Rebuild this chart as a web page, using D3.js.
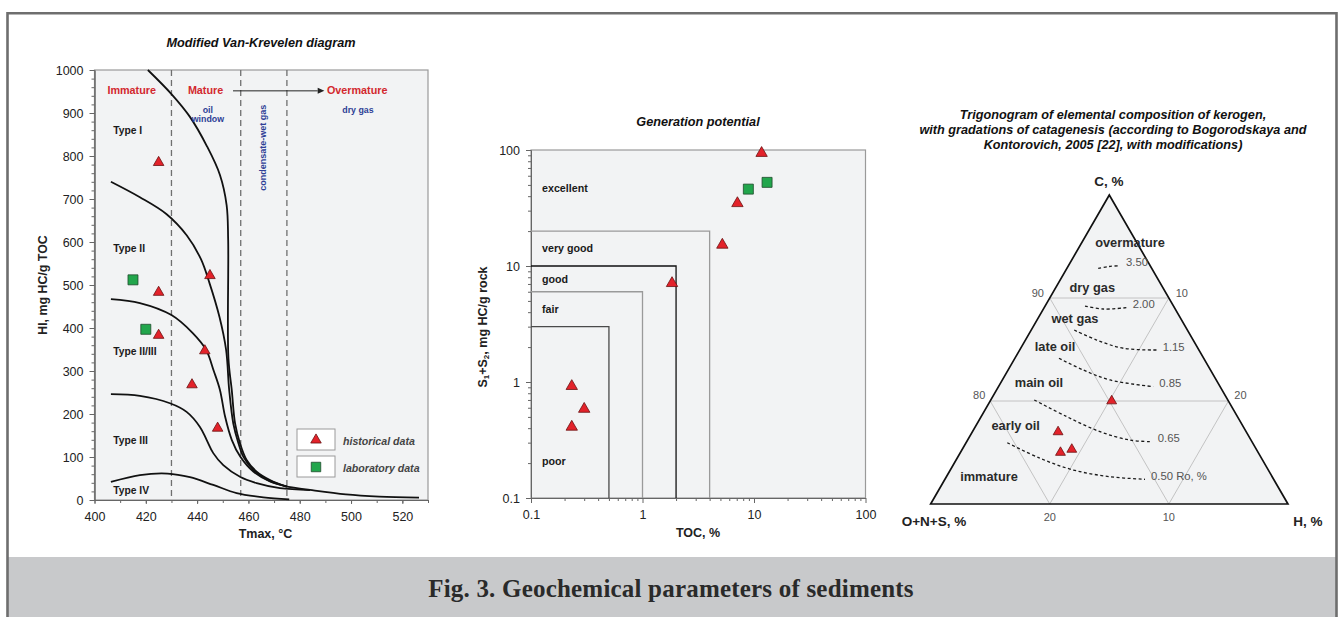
<!DOCTYPE html>
<html><head><meta charset="utf-8">
<script src="https://cdn.jsdelivr.net/npm/d3@7"></script>
<style>body{margin:0;background:#fff} svg{display:block}</style>
</head><body><svg id="c" width="1342" height="617"></svg>
<script>
// ---------------- DATA ----------------
// Panel 1: Modified Van-Krevelen diagram
const tmaxTicks = [400, 420, 440, 460, 480, 500, 520];
const hiTicks = [0, 100, 200, 300, 400, 500, 600, 700, 800, 900, 1000];
const maturityBounds = [430, 457, 475];
const curveTypeI = [[420.8,1000],[430,944],[437.2,891],[443.9,822],[448.9,756],[451.5,686],[452.1,605],[452.2,330],[453.5,256],[454.8,178],[456.7,132],[459.3,93],[463.2,66],[468.4,46.5],[475,31]];
const curveTypeII = [[406.4,740],[417.7,704],[428,665],[436,615],[441.5,560],[444.8,505],[448.7,426],[451.3,349],[452.5,256],[454.1,178],[456.1,132],[458,101],[461.9,70],[467.1,48],[475,31]];
const curveTypeII_III = [[406.4,467],[417.7,458],[430,430],[438.3,388],[443.5,349],[446.5,300],[448.9,256],[450.9,194],[453.5,140],[456.8,101],[461.9,66],[468.4,43],[475,31]];
const curveTypeIII = [[406.4,246],[417.7,242],[429.4,225],[435.9,205],[441.1,170],[443.7,140],[446.3,109],[450.2,81],[456.7,54],[463.2,39],[472.3,27.5],[484,23.3]];
const curveTypeIV = [[406.4,42],[417.7,58],[428.5,61.5],[437.2,53],[446.3,35],[455.4,16],[465.8,6.3],[475.9,1.6]];
const curveTail = [[475,31],[484,23.3],[498,13],[511,8],[526.5,5.5]];
const histTmax = [425, 445, 425, 425, 443, 438, 448];
const histHI   = [785, 522, 483, 383, 347, 268, 167];
const labTmax = [415, 420];
const labHI   = [512, 397];

// Panel 2: Generation potential
const logTicks = [0.1, 1, 10, 100];
const potentialClasses = ["poor", "fair", "good", "very good", "excellent"];
const classTOC = [0.5, 1, 2, 4];
const classS1S2 = [3, 6, 10, 20];
const histTOC  = [11.7, 7.1, 5.2, 1.84, 0.232, 0.30, 0.232];
const histS1S2 = [94, 34.7, 15.2, 7.1, 0.92, 0.585, 0.41];
const labTOC  = [8.9, 13.1];
const labS1S2 = [46, 52.6];

// Panel 3: Trigonogram (C, H; O+N+S = 100 - C - H)
const ternC = [80.0, 77.0, 75.0, 75.3];
const ternH = [10.2, 7.2, 8.4, 9.2];
const roLabels = ["3.50", "2.00", "1.15", "0.85", "0.65", "0.50 Ro, %"];
const roCurveC = [
  [92.88, 93.06, 93.14],
  [89.22, 88.93, 89.06],
  [86.89, 85.92, 85.12, 84.95],
  [84.15, 83.01, 82.04, 81.39],
  [80.10, 78.48, 77.02, 76.21, 76.05],
  [75.95, 74.44, 73.30, 72.65, 72.40]
];
const roCurveH = [
  [2.63, 3.45, 4.33],
  [3.35, 5.03, 6.93],
  [3.61, 5.98, 8.62, 11.50],
  [3.70, 6.31, 9.04, 13.00],
  [3.65, 7.19, 10.71, 13.63, 15.54],
  [3.46, 6.96, 10.33, 13.73, 16.80]
];
const stageLabels = ["overmature", "dry gas", "wet gas", "late oil", "main oil", "early oil", "immature"];

// ---------------- DRAW ----------------
const SANS = '"Liberation Sans", Arial, sans-serif';
const svg = d3.select("#c");
svg.append("rect").attr("width", 1342).attr("height", 617).attr("fill", "#fff");
svg.append("rect").attr("x", 8).attr("y", 557).attr("width", 1328).attr("height", 62).attr("fill", "#c8c9cb");
svg.append("path").attr("d", "M7.5,620 V13.3 H1336.5 V620").attr("fill", "none").attr("stroke", "#6e6e6e").attr("stroke-width", 2.6);
svg.append("text").attr("x", 671).attr("y", 588).attr("text-anchor", "middle").attr("dominant-baseline", "central")
  .attr("font-family", '"Liberation Serif", "Times New Roman", serif').attr("font-weight", "bold").attr("font-size", 25)
  .attr("letter-spacing", 0.2).attr("fill", "#2a2a2a").text("Fig. 3. Geochemical parameters of sediments");

function txt(g, x, y, s, o = {}) {
  const t = g.append("text").attr("x", x).attr("y", y).attr("font-family", SANS)
    .attr("font-size", o.size || 11).attr("font-weight", o.weight || "bold")
    .attr("font-style", o.style || "normal").attr("fill", o.fill || "#222")
    .attr("text-anchor", o.anchor || "middle").attr("dominant-baseline", "central").text(s);
  if (o.rotate) t.attr("transform", `rotate(${o.rotate},${x},${y})`);
  return t;
}
function styleAxis(g) {
  g.attr("font-family", SANS).attr("font-size", 12.5);
  g.select(".domain").attr("stroke", "#666");
  g.selectAll(".tick line").attr("stroke", "#666");
  g.selectAll(".tick text").attr("fill", "#222");
}
const triSym = (s) => d3.symbol().type(d3.symbolTriangle).size(s)();
const sqSym = (s) => d3.symbol().type(d3.symbolSquare).size(s)();
const RED = "#e3222a", REDS = "#6a1111", GRN = "#22a64c", GRNS = "#1f4a2c";
const TITLE = 12.7;

// ===== Panel 1 =====
const x1 = d3.scaleLinear().domain([400, 530]).range([94.5, 428]);
const y1 = d3.scaleLinear().domain([0, 1000]).range([500, 70]);
const g1 = svg.append("g");
g1.append("rect").attr("x", x1(400)).attr("y", y1(1000)).attr("width", x1(530) - x1(400)).attr("height", y1(0) - y1(1000))
  .attr("fill", "#f2f3f4").attr("stroke", "#9a9a9a").attr("stroke-width", 1.2);
g1.append("g").attr("transform", `translate(0,${y1(0)})`)
  .call(d3.axisBottom(x1).tickValues(d3.range(400, 531, 10)).tickSize(3).tickSizeOuter(0).tickFormat(""))
  .call(styleAxis);
g1.append("g").attr("transform", `translate(0,${y1(0)})`)
  .call(d3.axisBottom(x1).tickValues(tmaxTicks).tickSize(4).tickPadding(8).tickSizeOuter(0).tickFormat(d3.format("d")))
  .call(styleAxis);
g1.append("g").attr("transform", `translate(${x1(400)},0)`)
  .call(d3.axisLeft(y1).tickValues(d3.range(0, 1001, 20)).tickSize(3).tickSizeOuter(0).tickFormat(""))
  .call(styleAxis);
g1.append("g").attr("transform", `translate(${x1(400)},0)`)
  .call(d3.axisLeft(y1).tickValues(hiTicks).tickSize(5).tickPadding(6).tickSizeOuter(0).tickFormat(d3.format("d")))
  .call(styleAxis);
maturityBounds.forEach(t => {
  g1.append("line").attr("x1", x1(t)).attr("x2", x1(t)).attr("y1", y1(1000)).attr("y2", y1(0))
    .attr("stroke", "#6f6f6f").attr("stroke-width", 1.3).attr("stroke-dasharray", "6,4");
});
const line1 = d3.line().x(d => x1(d[0])).y(d => y1(d[1])).curve(d3.curveCatmullRom.alpha(0.5));
[curveTypeI, curveTypeII, curveTypeII_III, curveTypeIII, curveTypeIV, curveTail].forEach(c => {
  g1.append("path").attr("d", line1(c)).attr("fill", "none").attr("stroke", "#111").attr("stroke-width", 1.8);
});
// maturity header
txt(g1, x1(414.5), y1(953), "Immature", { fill: "#d2282e", size: 10.8 });
txt(g1, x1(443.3), y1(953), "Mature", { fill: "#d2282e", size: 10.8 });
txt(g1, x1(502.4), y1(953), "Overmature", { fill: "#d2282e", size: 10.8 });
g1.append("line").attr("x1", x1(454)).attr("x2", x1(487)).attr("y1", y1(951.5)).attr("y2", y1(951.5)).attr("stroke", "#222").attr("stroke-width", 1);
g1.append("path").attr("d", `M${x1(487)},${y1(951.5) - 3}L${x1(489.6)},${y1(951.5)}L${x1(487)},${y1(951.5) + 3}Z`).attr("fill", "#222");
txt(g1, x1(444.2), y1(907), "oil", { fill: "#2e3f96", size: 8.8 });
txt(g1, x1(444.2), y1(886), "window", { fill: "#2e3f96", size: 8.8 });
txt(g1, x1(465.8), y1(819), "condensate-wet gas", { fill: "#2e3f96", size: 9, rotate: -90 });
txt(g1, x1(502.7), y1(907), "dry gas", { fill: "#2e3f96", size: 8.8 });
// type labels
[["Type I", 859], ["Type II", 584], ["Type II/III", 345], ["Type III", 138], ["Type IV", 21]].forEach(d => {
  txt(g1, x1(407.3), y1(d[1]), d[0], { anchor: "start", size: 10.3, fill: "#1a1a1a" });
});
// points
histTmax.forEach((t, i) => {
  g1.append("path").attr("d", triSym(48)).attr("transform", `translate(${x1(t)},${y1(histHI[i])})`)
    .attr("fill", RED).attr("stroke", REDS).attr("stroke-width", 0.8);
});
labTmax.forEach((t, i) => {
  g1.append("path").attr("d", sqSym(100)).attr("transform", `translate(${x1(t)},${y1(labHI[i])})`)
    .attr("fill", GRN).attr("stroke", GRNS).attr("stroke-width", 0.8);
});
// legend
[["historical data", 429, "tri"], ["laboratory data", 456, "sq"]].forEach(d => {
  g1.append("rect").attr("x", 297).attr("y", d[1]).attr("width", 38).attr("height", 21).attr("fill", "#fff").attr("stroke", "#9a9a9a");
  g1.append("path").attr("d", d[2] === "tri" ? triSym(48) : sqSym(90)).attr("transform", `translate(316,${d[1] + 11})`)
    .attr("fill", d[2] === "tri" ? RED : GRN).attr("stroke", d[2] === "tri" ? REDS : GRNS).attr("stroke-width", 0.8);
  txt(g1, 343, d[1] + 11.5, d[0], { anchor: "start", style: "italic", size: 10.6, fill: "#444" });
});
txt(g1, 261, 43, "Modified Van-Krevelen diagram", { style: "italic", size: TITLE, fill: "#111" });
txt(g1, 43, 285, "HI, mg HC/g TOC", { size: 12.4, rotate: -90, fill: "#222" });
txt(g1, 265.5, 534, "Tmax, °C", { size: 12.5, fill: "#222" });

// ===== Panel 2 =====
const x2 = d3.scaleLog().domain([0.1, 100]).range([531, 865.5]);
const y2 = d3.scaleLog().domain([0.1, 100]).range([498, 150]);
const g2 = svg.append("g");
g2.append("rect").attr("x", x2(0.1)).attr("y", y2(100)).attr("width", x2(100) - x2(0.1)).attr("height", y2(0.1) - y2(100))
  .attr("fill", "#f2f3f4").attr("stroke", "#9a9a9a").attr("stroke-width", 1.2);
const minorLog = [0.1, 1, 10].flatMap(d => d3.range(2, 10).map(k => k * d));
const fmt = d => (d < 1 ? d.toFixed(1) : String(d));
g2.append("g").attr("transform", `translate(0,${y2(0.1)})`)
  .call(d3.axisBottom(x2).tickValues(minorLog).tickSize(3).tickSizeOuter(0).tickFormat(""))
  .call(styleAxis);
g2.append("g").attr("transform", `translate(0,${y2(0.1)})`)
  .call(d3.axisBottom(x2).tickValues(logTicks).tickSize(5).tickPadding(7).tickSizeOuter(0).tickFormat(fmt))
  .call(styleAxis);
g2.append("g").attr("transform", `translate(${x2(0.1)},0)`)
  .call(d3.axisLeft(y2).tickValues(minorLog).tickSize(3).tickSizeOuter(0).tickFormat(""))
  .call(styleAxis);
g2.append("g").attr("transform", `translate(${x2(0.1)},0)`)
  .call(d3.axisLeft(y2).tickValues(logTicks).tickSize(5).tickPadding(6).tickSizeOuter(0).tickFormat(fmt))
  .call(styleAxis);
const classColors = ["#4a4a4a", "#9a9a9a", "#111", "#9a9a9a"];
const line2 = d3.line().x(d => x2(d[0])).y(d => y2(d[1]));
classTOC.forEach((t, i) => {
  g2.append("path").attr("d", line2([[0.1, classS1S2[i]], [t, classS1S2[i]], [t, 0.1]]))
    .attr("fill", "none").attr("stroke", classColors[i]).attr("stroke-width", 1.3);
});
const classLabelPos = [0.21, 4.25, 7.7, 14.3, 47];
potentialClasses.forEach((c, i) => {
  txt(g2, x2(0.1) + 11, y2(classLabelPos[i]), c, { anchor: "start", size: 10.7, fill: "#1a1a1a" });
});
histTOC.forEach((t, i) => {
  g2.append("path").attr("d", triSym(56)).attr("transform", `translate(${x2(t)},${y2(histS1S2[i])})`)
    .attr("fill", RED).attr("stroke", REDS).attr("stroke-width", 0.8);
});
labTOC.forEach((t, i) => {
  g2.append("path").attr("d", sqSym(100)).attr("transform", `translate(${x2(t)},${y2(labS1S2[i])})`)
    .attr("fill", GRN).attr("stroke", GRNS).attr("stroke-width", 0.8);
});
txt(g2, 698, 122, "Generation potential", { style: "italic", size: TITLE, fill: "#111" });
txt(g2, 698, 533, "TOC, %", { size: 12.5, fill: "#222" });
{
  const yl = g2.append("text").attr("x", 483).attr("y", 327).attr("transform", "rotate(-90,483,327)")
    .attr("text-anchor", "middle").attr("dominant-baseline", "central").attr("font-family", SANS)
    .attr("font-size", 12.5).attr("font-weight", "bold").attr("fill", "#222");
  yl.append("tspan").text("S");
  yl.append("tspan").attr("font-size", 8).attr("dy", 3).text("1");
  yl.append("tspan").attr("dy", -3).text("+S");
  yl.append("tspan").attr("font-size", 8).attr("dy", 3).text("2");
  yl.append("tspan").attr("dy", -3).text(", mg HC/g rock");
}

// ===== Panel 3 =====
const cx = 1109.3, hw = 178.65;
const yT = d3.scaleLinear().domain([100, 70]).range([195, 504]);
const xT = d3.scaleLinear().domain([-30, 30]).range([cx - hw, cx + hw]);
const tern = (C, H) => [xT(H - (100 - C - H)), yT(C)];
const g3 = svg.append("g");
const apex = tern(100, 0), bl = tern(70, 0), br = tern(70, 30);
g3.append("path").attr("d", `M${apex}L${bl}L${br}Z`).attr("fill", "#f2f3f4").attr("stroke", "none");
const gridSegs = [
  [[90, 0], [90, 10]], [[80, 0], [80, 20]],
  [[90, 10], [70, 10]], [[80, 20], [70, 20]],
  [[90, 0], [70, 20]], [[80, 0], [70, 10]]
];
gridSegs.forEach(s => {
  g3.append("line").attr("x1", tern(...s[0])[0]).attr("y1", tern(...s[0])[1]).attr("x2", tern(...s[1])[0]).attr("y2", tern(...s[1])[1])
    .attr("stroke", "#bdbdbd").attr("stroke-width", 0.9);
});
g3.append("path").attr("d", `M${apex}L${bl}L${br}Z`).attr("fill", "none").attr("stroke", "#111").attr("stroke-width", 1.7).attr("stroke-linejoin", "miter");
// tick labels
const tl = { size: 11, weight: "normal", fill: "#555" };
txt(g3, tern(90, 0)[0] - 12, tern(90, 0)[1] - 5, "90", tl);
txt(g3, tern(80, 0)[0] - 11, tern(80, 0)[1] - 6, "80", tl);
txt(g3, tern(90, 10)[0] + 13, tern(90, 10)[1] - 5, "10", tl);
txt(g3, tern(80, 20)[0] + 12, tern(80, 20)[1] - 6, "20", tl);
txt(g3, tern(70, 10)[0], tern(70, 10)[1] + 13, "20", tl);
txt(g3, tern(70, 20)[0], tern(70, 20)[1] + 13, "10", tl);
// Ro curves
const line3 = d3.line().x(d => tern(d[0], d[1])[0]).y(d => tern(d[0], d[1])[1]).curve(d3.curveCatmullRom.alpha(0.5));
roCurveC.forEach((cs, i) => {
  const pts = cs.map((c, j) => [c, roCurveH[i][j]]);
  g3.append("path").attr("d", line3(pts)).attr("fill", "none").attr("stroke", "#1a1a1a").attr("stroke-width", 1.3).attr("stroke-dasharray", "3,2.5");
  const last = tern(...pts[pts.length - 1]);
  txt(g3, last[0] + 6, last[1] - 3.5, roLabels[i], { anchor: "start", size: 11.3, weight: "normal", fill: "#555" });
});
const stagePos = [[1130, 242.7], [1092.3, 287.3], [1075, 318.7], [1055, 346.7], [1039, 382], [1015.7, 425.3], [989, 476.7]];
stageLabels.forEach((s, i) => txt(g3, stagePos[i][0], stagePos[i][1], s, { size: 12.8, fill: "#2a2a2a" }));
ternC.forEach((c, i) => {
  const p = tern(c, ternH[i]);
  g3.append("path").attr("d", triSym(42)).attr("transform", `translate(${p[0]},${p[1]})`)
    .attr("fill", RED).attr("stroke", REDS).attr("stroke-width", 0.8);
});
txt(g3, 1109, 181, "C, %", { size: 13.5, fill: "#222" });
txt(g3, 934, 521, "O+N+S, %", { size: 13.5, fill: "#222" });
txt(g3, 1308, 521, "H, %", { size: 13.5, fill: "#222" });
txt(g3, 1113, 115, "Trigonogram of elemental composition of kerogen,", { style: "italic", size: TITLE, fill: "#111" });
txt(g3, 1113, 130, "with gradations of catagenesis (according to Bogorodskaya and", { style: "italic", size: TITLE, fill: "#111" });
txt(g3, 1113, 144.5, "Kontorovich, 2005 [22], with modifications)", { style: "italic", size: TITLE, fill: "#111" });
</script></body></html>
